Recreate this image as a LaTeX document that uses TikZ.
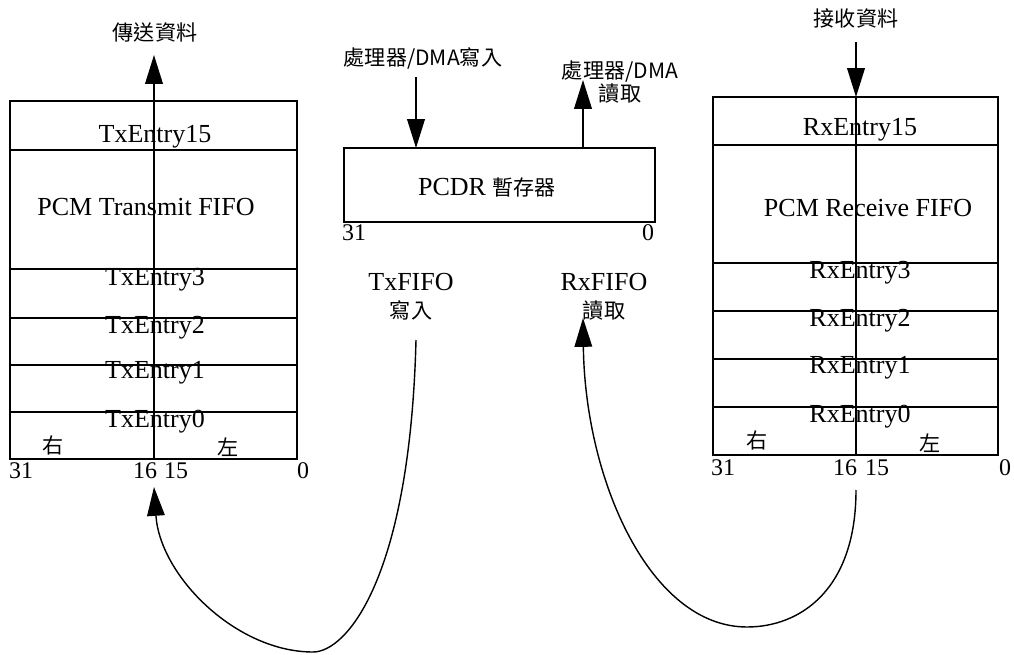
\documentclass[tikz,border=0pt]{standalone}
\usepackage{fontspec}
\setmainfont{Liberation Serif}
\newfontfamily\cjk{Noto Sans CJK TC}
\usetikzlibrary{arrows.meta}
\tikzset{
  regbox/.style={draw, line width=1.4pt, inner sep=0pt},
  arr/.style={-{Triangle[length=0.72cm,width=0.44cm]}, line width=1.2pt},
  loop/.style={-{Triangle[length=0.72cm,width=0.44cm]}, line width=1pt},
  lbl/.style={font=\fontsize{18.5}{20}\selectfont, inner sep=0pt},
  zh/.style={font=\fontsize{15}{16.5}\selectfont\cjk, inner sep=0pt},
  bit/.style={font=\fontsize{17}{20}\selectfont, inner sep=0pt}
}

\begin{document}
\begin{tikzpicture}[x=0.025cm,y=-0.025cm]
\useasboundingbox (0,0) rectangle (1014,655);
% boxes
\node[regbox, minimum width=7.175cm, minimum height=8.95cm] (tx) at (153.5,280) {};
\node[regbox, minimum width=7.775cm, minimum height=1.85cm] (pcdr) at (499.5,185) {};
\node[regbox, minimum width=7.125cm, minimum height=8.95cm] (rx) at (855.5,276) {};
\foreach \y in {150,269,318,365,412} % edit here for Tx rows
\draw[line width=1.4pt] (10,\y) -- (297,\y);
\foreach \y in {145,263,311,359,407} % edit here for Rx rows
\draw[line width=1.4pt] (713,\y) -- (998,\y);
% entry names
\foreach \y/\t [count=\i] in {137/TxEntry15, 280/TxEntry3, 328/TxEntry2, 373/TxEntry1, 422/TxEntry0}
\node[lbl] (txrow\i) at (155,\y) {\t};
\foreach \y/\t [count=\i] in {130/RxEntry15, 273/RxEntry3, 321/RxEntry2, 368/RxEntry1, 417/RxEntry0}
\node[lbl] (rxrow\i) at (860,\y) {\t};
\node[lbl] (txname) at (146,207) {PCM Transmit FIFO};
\node[lbl] (rxname) at (868,208) {PCM Receive FIFO};
\node[lbl] (pcdrname) at (487,187) {PCDR {\cjk\fontsize{15}{18}\selectfont 暫存器}};
% bit numbers
\foreach \x/\b in {21/31, 145/16, 176/15, 303/0} % edit here for Tx bits
\node[bit] (txb\b) at (\x,471) {\b};
\foreach \x/\b in {723/31, 845/16, 877/15, 1005/0} % edit here for Rx bits
\node[bit] (rxb\b) at (\x,468) {\b};
\node[bit] (pcdrb31) at (354,233) {31};
\node[bit] (pcdrb0) at (648,233) {0};
\node[zh] (txright) at (53,445) {右};
\node[zh] (txleft) at (228,447) {左};
\node[zh] (rxright) at (757,440) {右};
\node[zh] (rxleft) at (930,443) {左};
% arrow labels
\node[zh] (txdata) at (155,32) {傳送資料};
\node[zh] (rxdata) at (856,18) {接收資料};
\node[zh] (cpuwr) at (423,58) {處理器/DMA寫入};
\node[zh, align=center] (cpurd) at (620,82) {處理器/DMA\\讀取};
\node[lbl, align=center] (txfifo) at (411,297) {TxFIFO\\{\cjk\fontsize{15}{18}\selectfont 寫入}};
\node[lbl, align=center] (rxfifo) at (604,297) {RxFIFO\\{\cjk\fontsize{15}{18}\selectfont 讀取}};
% arrows
\coordinate (txbit) at (154,459);
\coordinate (txout) at (154,55);
\draw[arr] (txbit) -- (txout);
\coordinate (rxin) at (856,42);
\coordinate (rxtop) at (856,97);
\coordinate (rxbit) at (856,455);
\draw[arr] (rxin) -- (rxtop);
\draw[line width=1.4pt] (rxtop) -- (rxbit);
\coordinate (cpuin) at (416,77);
\coordinate (cpuinend) at (416,148);
\draw[arr] (cpuin) -- (cpuinend);
\coordinate (cpuoutstart) at (583,148);
\coordinate (cpuout) at (583,80);
\draw[arr] (cpuoutstart) -- (cpuout);
% loops
\coordinate (txwr) at (416,340);
\coordinate (txtip) at (154,487);
\draw[loop] (txwr) .. controls (410,577) and (347,652) .. (313,652)
  .. controls (236,652) and (160,576) .. (txtip);
\coordinate (rxrd) at (856,490);
\coordinate (rxtip) at (583,318);
\draw[loop] (rxrd) .. controls (856,590) and (800,627) .. (747,627)
  .. controls (650,627) and (585,480) .. (rxtip);
\end{tikzpicture}
\end{document}
